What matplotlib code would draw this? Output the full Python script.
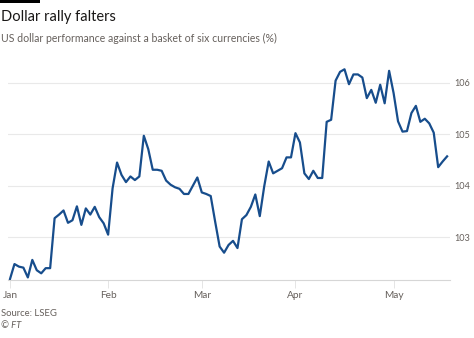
import matplotlib
matplotlib.use("Agg")
import matplotlib.pyplot as plt
from matplotlib.patches import Rectangle

# Business-day series, 2 Jan - 17 May
values = [102.19, 102.48, 102.43, 102.41, 102.22, 102.56, 102.36, 102.30, 102.40, 102.40,
          103.37, 103.44, 103.52, 103.28, 103.33, 103.60, 103.24, 103.56, 103.44, 103.59,
          103.39, 103.27, 103.05, 103.95, 104.45, 104.21, 104.07, 104.18, 104.11, 104.18,
          104.97, 104.71, 104.31, 104.31, 104.29, 104.10, 104.02, 103.97, 103.94, 103.84,
          103.84, 104.00, 104.16, 103.87, 103.84, 103.80, 103.30, 102.82, 102.70, 102.85,
          102.93, 102.79, 103.35, 103.43, 103.59, 103.83, 103.41, 103.99, 104.47, 104.24,
          104.29, 104.34, 104.55, 104.55, 105.02, 104.84, 104.24, 104.13, 104.29, 104.15,
          104.15, 105.24, 105.28, 106.04, 106.21, 106.26, 105.97, 106.16, 106.16, 106.10,
          105.70, 105.86, 105.61, 105.96, 105.60, 106.23, 105.80, 105.25, 105.05, 105.06,
          105.41, 105.55, 105.24, 105.30, 105.21, 105.03, 104.36, 104.47, 104.57]
month_labels = ["Jan", "Feb", "Mar", "Apr", "May"]
month_positions = [0, 22, 43, 64, 86]
y_ticks = [103, 104, 105, 106]

FONT = "Lato"
GREY = "#66605c"

W, H = 474, 338
fig = plt.figure(figsize=(W / 100, H / 100), dpi=100)
fig.patch.set_facecolor("white")

ax_left, ax_right, ax_top, ax_bot = 8, 450, 60, 279.5
ax = fig.add_axes([ax_left / W, (H - ax_bot) / H, (ax_right - ax_left) / W, (ax_bot - ax_top) / H])
ax.set_facecolor("white")

x = list(range(len(values)))
ax.plot(x, values, color="#174d8c", linewidth=1.6, solid_joinstyle="round", zorder=3)

ax.set_xlim(-0.45, 98.65)
ax.set_ylim(102.18, 106.44)

ax.set_yticks(y_ticks)
ax.set_yticklabels([str(t) for t in y_ticks])
ax.yaxis.tick_right()
ax.tick_params(axis="y", length=0, pad=3, labelsize=6.6, labelcolor=GREY)
for lab in ax.get_yticklabels():
    lab.set_fontfamily(FONT)
ax.grid(axis="y", color="#e9e9e9", linewidth=0.8, zorder=0)

ax.set_xticks(month_positions)
ax.set_xticklabels(month_labels)
ax.tick_params(axis="x", length=6, width=0.6, color="#e0e0e0", pad=2, labelsize=7.3, labelcolor=GREY)
for lab in ax.get_xticklabels():
    lab.set_fontfamily(FONT)

for s in ["top", "right", "left"]:
    ax.spines[s].set_visible(False)
ax.spines["bottom"].set_color("#d6d6d6")
ax.spines["bottom"].set_linewidth(0.8)

# Header
fig.patches.append(Rectangle((0, 1 - 3 / H), 40 / W, 3 / H, transform=fig.transFigure,
                             facecolor="black", edgecolor="none"))
fig.text(1 / W, 1 - 17 / H, "Dollar rally falters", fontsize=10.5, color="#1a1817",
         family=FONT, va="center", ha="left")
fig.text(1 / W, 1 - 38 / H, "US dollar performance against a basket of six currencies (%)",
         fontsize=7.6, color=GREY, family=FONT, va="center", ha="left")

fig.text(1 / W, 1 - 313 / H, "Source: LSEG", fontsize=6.8, color=GREY, family=FONT,
         va="center", ha="left")
fig.text(1 / W, 1 - 326 / H, "© FT", fontsize=6.8, color=GREY, family=FONT, style="italic",
         va="center", ha="left")

fig.savefig("out.png", dpi=100, facecolor="white")
